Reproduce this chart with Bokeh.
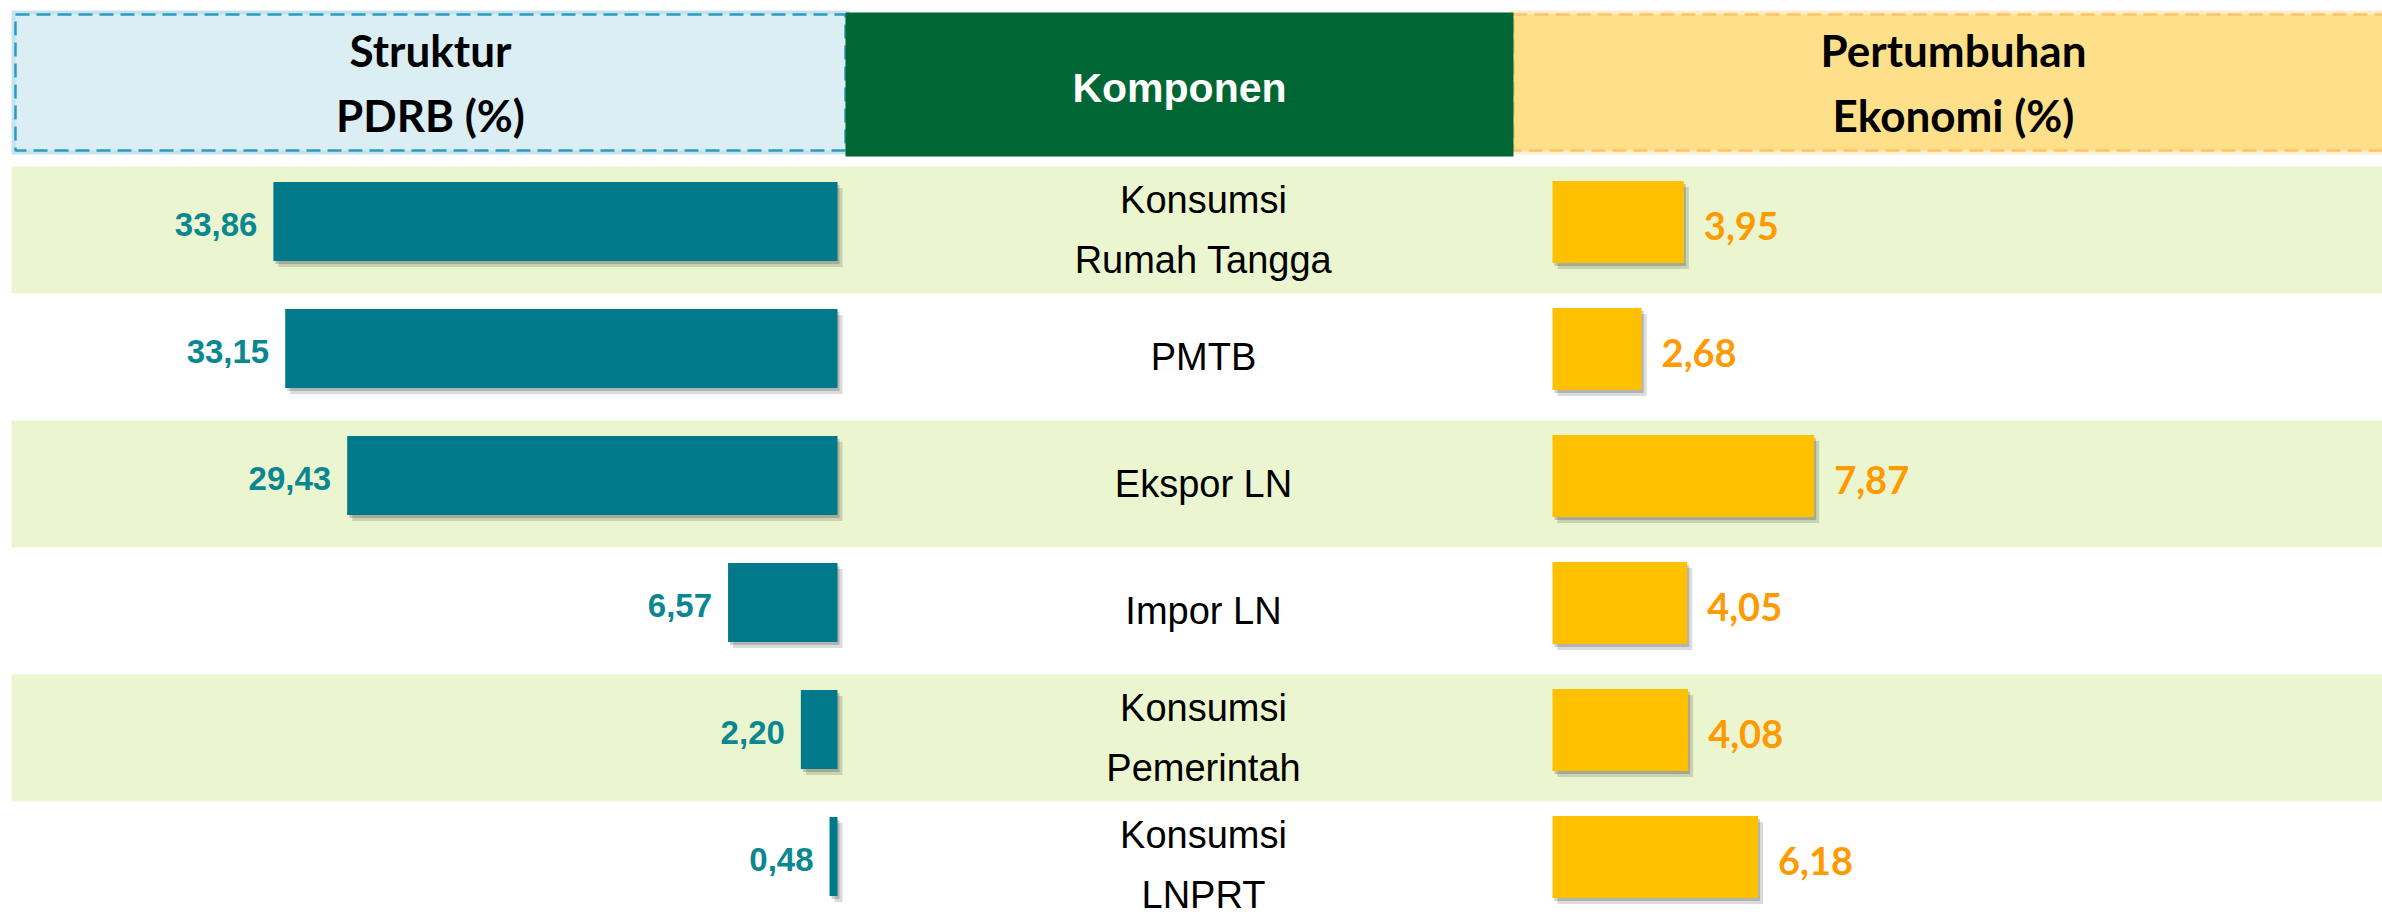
from bokeh.plotting import figure
from bokeh.models import Range1d, ColumnDataSource
from bokeh.core.properties import value
from bokeh.embed import file_html
from bokeh.resources import INLINE

# ---------------- data ----------------
components = ["Konsumsi\nRumah Tangga", "PMTB", "Ekspor LN", "Impor LN",
              "Konsumsi\nPemerintah", "Konsumsi\nLNPRT"]
pdrb_share = [33.86, 33.15, 29.43, 6.57, 2.20, 0.48]
growth = [3.95, 2.68, 7.87, 4.05, 4.08, 6.18]
header_left = "Struktur\nPDRB (%)"
header_mid = "Komponen"
header_right = "Pertumbuhan\nEkonomi (%)"

# ---------------- layout ----------------
W, H = 2382, 918
X0, Y0 = 0, 0
X1, Y1 = X0 + W, Y0 + H
ROW_TOP, ROW_H = 166, 127
PDRB_ZERO, PDRB_PX = 837, 16.66
GROW_ZERO, GROW_PX = 1552, 33.25

TEAL = "#00798A"
TEAL_TXT = "#0A8790"
GOLD = "#FFC000"
ORANGE_TXT = "#FF9A00"
BAND = "#EBF5D0"

p = figure(width=W, height=H, x_range=Range1d(X0, X1), y_range=Range1d(Y1, Y0),
           output_backend="svg", toolbar_location=None, min_border=0)
p.axis.visible = False
p.grid.visible = False
p.outline_line_color = None
p.background_fill_color = "white"
p.border_fill_color = "white"


def rows_range(shift=0):
    return Range1d(start=(Y1 - ROW_TOP - shift) / ROW_H, end=(Y0 - ROW_TOP - shift) / ROW_H)


def pdrb_range(shift=0):
    z = PDRB_ZERO + shift
    return Range1d(start=(z - X0) / PDRB_PX, end=(z - X1) / PDRB_PX)


def grow_range(shift=0):
    z = GROW_ZERO + shift
    return Range1d(start=(X0 - z) / GROW_PX, end=(X1 - z) / GROW_PX)


p.extra_y_ranges = {"rows": rows_range()}
p.extra_x_ranges = {"pdrb": pdrb_range(), "grow": grow_range()}

n = len(components)
idx = list(range(n))
LB_DY = -8.5 / ROW_H
RB_DY = -8.0 / ROW_H
LB_H = 79 / ROW_H
RB_H = 82 / ROW_H

src = ColumnDataSource(dict(
    top=idx,
    bottom=[i + 1 for i in idx],
    band=[BAND if i % 2 == 0 else "white" for i in idx],
    yl=[i + 0.5 + LB_DY for i in idx],
    yr=[i + 0.5 + RB_DY for i in idx],
    yc=[i + 0.5 for i in idx],
    pdrb=pdrb_share,
    growth=growth,
    zero=[0] * n,
    comp=components,
    pdrb_lbl=[f"{v:.2f}".replace(".", ",") for v in pdrb_share],
    grow_lbl=[f"{v:.2f}".replace(".", ",") for v in growth],
))

# row bands
p.quad(left=11, right=X1, top="top", bottom="bottom", fill_color="band",
       line_color=None, y_range_name="rows", source=src)

# shadows (two soft layers)
for sx, sy, a in ((2, 3, 0.18), (5, 6, 0.14)):
    p.extra_x_ranges[f"pdrb_s{sx}"] = pdrb_range(sx)
    p.extra_x_ranges[f"grow_s{sx}"] = grow_range(sx)
    p.extra_y_ranges[f"rows_s{sy}"] = rows_range(sy)
    p.hbar(y="yl", left="zero", right="pdrb", height=LB_H, fill_color="black", fill_alpha=a,
           line_color=None, x_range_name=f"pdrb_s{sx}", y_range_name=f"rows_s{sy}", source=src)
    p.hbar(y="yr", left="zero", right="growth", height=RB_H, fill_color="black", fill_alpha=a,
           line_color=None, x_range_name=f"grow_s{sx}", y_range_name=f"rows_s{sy}", source=src)

# bars
p.hbar(y="yl", left="zero", right="pdrb", height=LB_H, fill_color=TEAL, line_color=None,
       x_range_name="pdrb", y_range_name="rows", source=src)
p.hbar(y="yr", left="zero", right="growth", height=RB_H, fill_color=GOLD, line_color=None,
       x_range_name="grow", y_range_name="rows", source=src)

# value labels
p.text(x="pdrb", y="yl", text="pdrb_lbl", x_offset=-16, y_offset=3,
       text_align="right", text_baseline="middle",
       text_font=value("Liberation Sans"), text_font_style="bold",
       text_font_size="33px", text_color=TEAL_TXT,
       x_range_name="pdrb", y_range_name="rows", source=src)
p.text(x="growth", y="yc", text="grow_lbl", x_offset=20, y_offset=-4,
       text_align="left", text_baseline="middle",
       text_font=value("Lato"), text_font_style="bold",
       text_font_size="38px", text_color=ORANGE_TXT,
       x_range_name="grow", y_range_name="rows", source=src)

# component names
p.text(x=1203, y="yc", text="comp", text_align="center", text_baseline="middle",
       text_font=value("Liberation Sans"), text_font_size="38px",
       text_line_height=1.42, text_color="black", y_range_name="rows", source=src)

# ---------------- headers ----------------
# glows
p.quad(left=[11, 1509], right=[849, X1], top=[10, 10], bottom=[154, 154],
       fill_color=["#7FC4D6", "#FFD88A"], fill_alpha=0.45, line_color=None)
p.quad(left=15, right=845, top=14, bottom=150, fill_color="#DAEEF3",
       line_color="#2E9AC0", line_width=2.5, line_dash="14 7")
p.quad(left=1513, right=X1 + 12, top=14, bottom=150, fill_color="#FFE08A",
       line_color="#F9C46B", line_width=2.5, line_dash="14 7")
p.quad(left=845, right=1513, top=12, bottom=156, fill_color="#006633", line_color=None)

p.text(x=[430, 1953], y=[82, 82], text=[header_left, header_right],
       text_align="center", text_baseline="middle", text_font=value("Lato"),
       text_font_style="bold", text_font_size="44px", text_line_height=1.25,
       text_color="black")
p.text(x=[1179], y=[87], text=[header_mid], text_align="center", text_baseline="middle",
       text_font=value("Liberation Sans"), text_font_style="bold",
       text_font_size="41px", text_color="white")

open("out.html", "w").write(file_html(p, INLINE))
